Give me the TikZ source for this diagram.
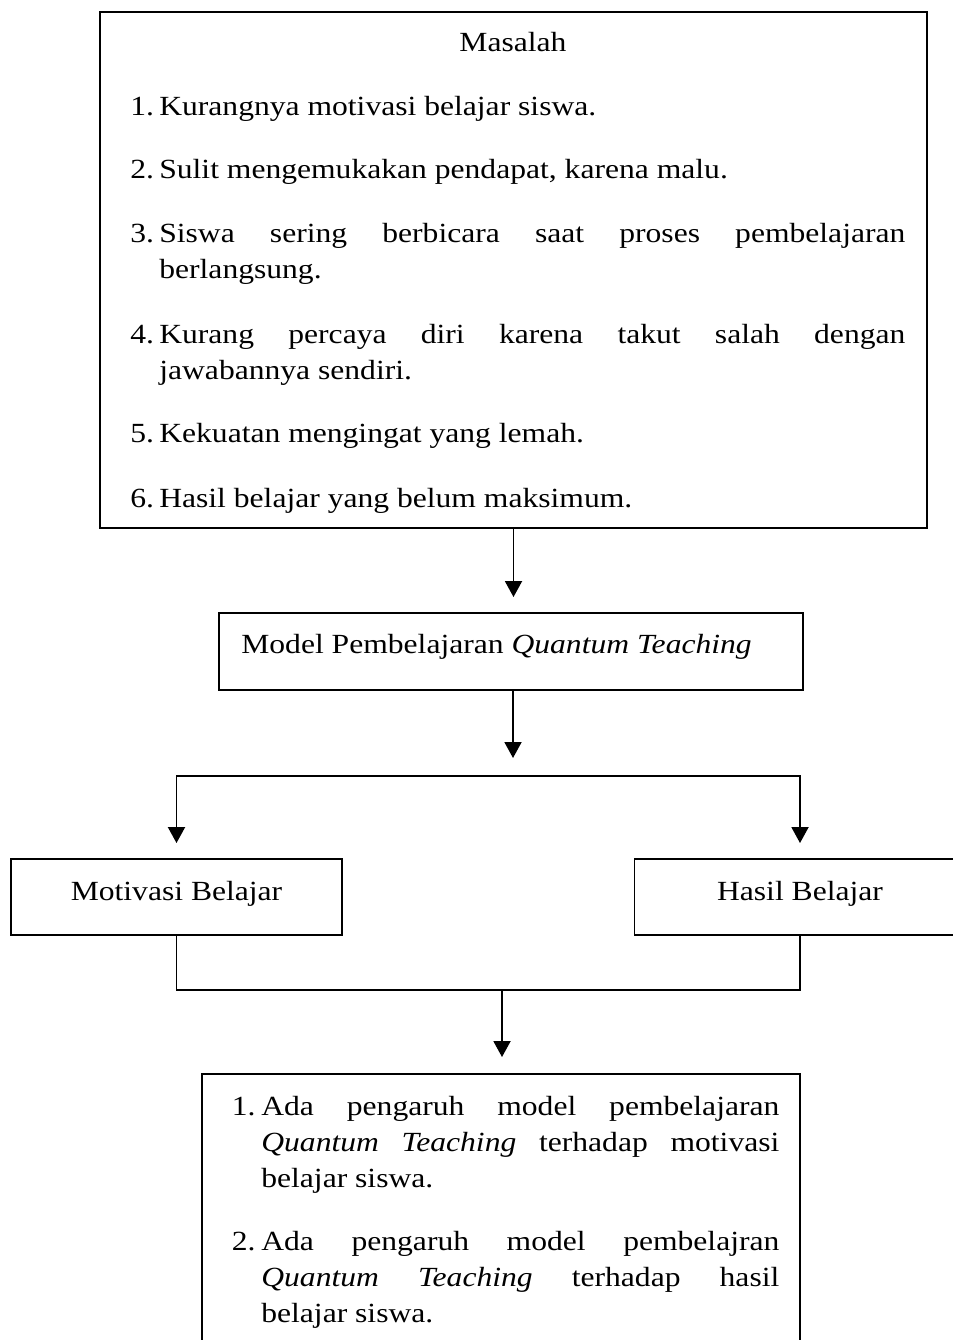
\documentclass[tikz,border=0pt]{standalone}
\usepackage{fontspec}
\setmainfont[FakeStretch=1.14]{Liberation Serif}
\usetikzlibrary{arrows.meta,positioning}
\newcommand\bodysize{\fontsize{15.77}{20.5}\selectfont}
\newcommand\itementry[3]{\hangindent=#1\hangafter=1\noindent\makebox[#1][l]{#2}\strut#3\par}
\hyphenpenalty=10000
\tolerance=9999
\tikzset{
  >={Triangle[length=3.2mm,width=3.4mm]},
  frame/.style={draw,line width=1.1pt,inner sep=0pt},
  txt/.style={inner sep=0pt,font=\bodysize},
  item/.style={txt,anchor=north west,text width=#1,align=justify},
  flow/.style={->,line width=1.1pt},
  link/.style={line width=1.1pt},
}
\begin{document}
\begin{tikzpicture}[x=0.2mm,y=-0.2mm]
  \useasboundingbox (0,0) rectangle (953,1340);
  % boxes
  \node[frame,minimum width=165.4mm,minimum height=103.2mm] (masalah) at (513.5,270) {};
  \node[frame,minimum width=116.8mm,minimum height=15.4mm] (model) at (511,651.5) {};
  \node[frame,minimum width=66.2mm,minimum height=15.2mm] (motivasi) at (176.5,897) {};
  \node[frame,minimum width=66.2mm,minimum height=15.2mm] (hasil) at (800,897) {};
  \node[frame,minimum width=119.6mm,minimum height=57.2mm] (hipotesis) at (501,1217) {};
  % texts
  \node[txt,anchor=base] (masalah title) at (513,52) {Masalah};
  \node[item=155mm] (m1) at (130,89.7) {\itementry{5.8mm}{1.}{Kurangnya motivasi belajar siswa.}};
  \node[item=155mm] (m2) at (130,152.7) {\itementry{5.8mm}{2.}{Sulit mengemukakan pendapat, karena malu.}};
  \node[item=155mm] (m3) at (130,216.7) {\itementry{5.8mm}{3.}{Siswa sering berbicara saat proses pembelajaran\linebreak berlangsung.}};
  \node[item=155mm] (m4) at (130,317.7) {\itementry{5.8mm}{4.}{Kurang percaya diri karena takut salah dengan\linebreak jawabannya sendiri.}};
  \node[item=155mm] (m5) at (130,416.7) {\itementry{5.8mm}{5.}{Kekuatan mengingat yang lemah.}};
  \node[item=155mm] (m6) at (130,481.7) {\itementry{5.8mm}{6.}{Hasil belajar yang belum maksimum.}};
  \node[txt,anchor=base west] (model text) at (241,653) {Model Pembelajaran \textit{Quantum Teaching}};
  \node[txt,anchor=base] (motivasi text) at (176.5,900) {Motivasi Belajar};
  \node[txt,anchor=base] (hasil text) at (800,900) {Hasil Belajar};
  \node[item=109.5mm] (h1) at (231.5,1089.7) {\itementry{5.9mm}{1.}{Ada pengaruh model pembelajaran\linebreak \textit{Quantum Teaching} terhadap motivasi\linebreak belajar siswa.}};
  \node[item=109.5mm] (h2) at (231.5,1224.7) {\itementry{5.9mm}{2.}{Ada pengaruh model pembelajran\linebreak \textit{Quantum Teaching} terhadap hasil\linebreak belajar siswa.}};
  % connectors
  \coordinate (split) at (513,776);
  \coordinate (join) at (502,990);
  \draw[flow,shorten >=3mm] (masalah.south) -- (masalah.south |- model.north);
  \draw[flow,shorten >=3.6mm] (model.south -| split) -- (split);
  \draw[flow,<->,shorten <=3mm,shorten >=3mm] (motivasi.north) |- (split) -| (hasil.north);
  \draw[link] (motivasi.south) |- (join) -| (hasil.south);
  \draw[flow,shorten >=3.2mm] (join) -- (join |- hipotesis.north);
\end{tikzpicture}
\end{document}
